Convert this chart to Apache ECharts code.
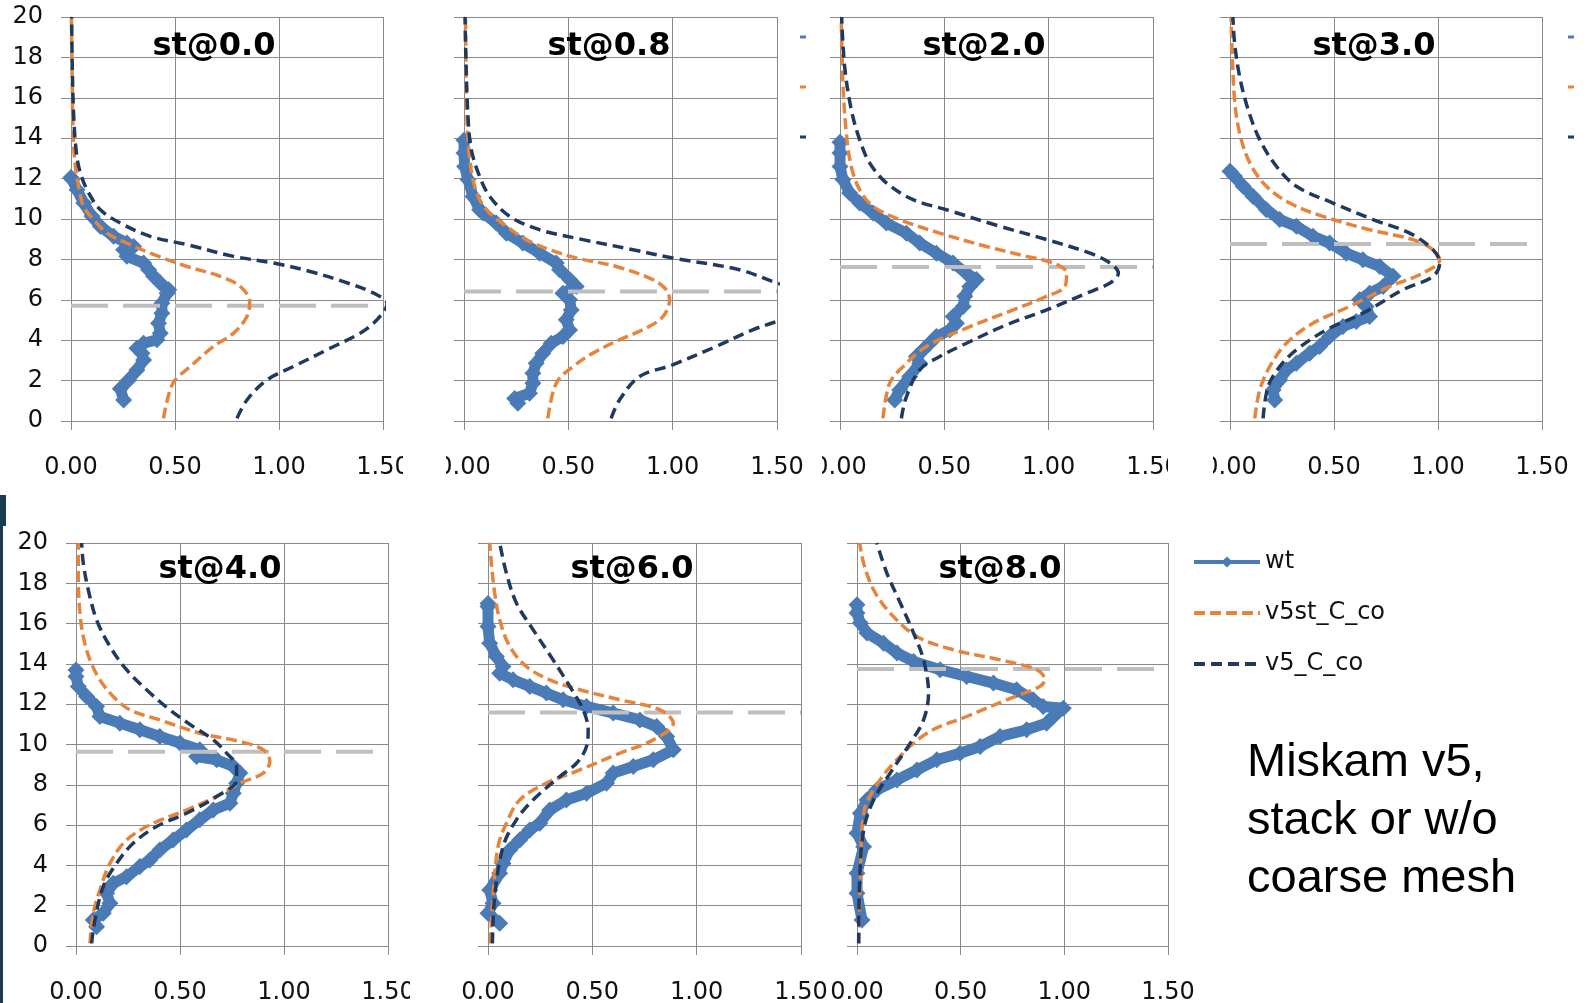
<!DOCTYPE html>
<html>
<head>
<meta charset="utf-8">
<script src="https://cdn.jsdelivr.net/npm/echarts@6/dist/echarts.min.js"></script>
<style>html,body{margin:0;padding:0;background:#fff;}#c{width:1586px;height:1003px;}</style>
</head>
<body>
<div id="c"></div>
<script>
// ---------- data ----------
const panelTitles = ['st@0.0','st@0.8','st@2.0','st@3.0','st@4.0','st@6.0','st@8.0'];
const seriesNames = ['wt','v5st_C_co','v5_C_co'];
const xMin = 0, xMax = 1.5, xStep = 0.5;
const yMin = 0, yMax = 20, yStep = 2;
// height of the gray dashed reference line in each panel
const refLevel = [5.71, 6.41, 7.62, 8.76, 9.64, 11.59, 13.75];

// [value, height] pairs
const wt_00 = [[0.253,1.04],[0.237,1.6],[0.277,2.03],[0.317,2.53],[0.349,3.02],[0.341,3.36],[0.317,3.6],[0.349,3.85],[0.413,4.02],[0.429,4.35],[0.421,4.84],[0.437,5.34],[0.437,5.83],[0.462,6.33],[0.47,6.5],[0.429,6.83],[0.397,7.16],[0.373,7.49],[0.349,7.82],[0.269,8.15],[0.253,8.48],[0.301,8.64],[0.269,8.81],[0.205,9.14],[0.141,9.64],[0.101,10.13],[0.061,10.79],[0.029,11.45],[0.005,11.95],[0,12.05]];
const v5st_00 = [[0.445,0.13],[0.49,1.87],[0.574,2.7],[0.686,3.7],[0.782,4.35],[0.846,5.17],[0.859,5.9],[0.814,6.66],[0.718,7.16],[0.558,7.65],[0.381,8.31],[0.27,8.8],[0.173,9.3],[0.109,9.97],[0.061,10.6],[0.037,11.6],[0.021,12.6],[0.01,14.26],[0.005,17.6],[0.002,20]];
const v5_00 = [[0.798,0.13],[0.846,1.04],[0.942,2.03],[1.07,2.7],[1.23,3.52],[1.39,4.35],[1.47,5.0],[1.52,5.8],[1.455,6.33],[1.31,6.9],[1.15,7.4],[0.974,7.82],[0.782,8.15],[0.558,8.73],[0.381,9.14],[0.237,9.8],[0.141,10.46],[0.085,11.29],[0.045,12.28],[0.026,13.27],[0.013,15.1],[0.006,17.6],[0.003,20]];

const wt_08 = [[0.258,0.88],[0.243,1.12],[0.314,1.37],[0.33,1.87],[0.33,2.36],[0.346,2.86],[0.378,3.36],[0.418,3.85],[0.474,4.18],[0.506,4.51],[0.49,5.01],[0.514,5.5],[0.506,6.0],[0.474,6.33],[0.538,6.66],[0.506,7.0],[0.458,7.49],[0.442,7.82],[0.362,8.31],[0.282,8.81],[0.203,9.3],[0.155,9.8],[0.091,10.3],[0.075,10.46],[0.043,11.12],[0.019,11.95],[0.003,12.6],[0,13.27],[0,13.9]];
const v5st_08 = [[0.402,0.13],[0.442,1.87],[0.522,2.69],[0.618,3.36],[0.745,4.02],[0.873,4.6],[0.953,5.17],[0.985,6.0],[0.969,6.5],[0.905,7.0],[0.729,7.65],[0.538,8.07],[0.41,8.48],[0.298,8.98],[0.203,9.64],[0.123,10.3],[0.075,10.96],[0.043,11.95],[0.024,13.27],[0.011,15.9],[0.008,19.2],[0.007,20]];
const v5_08 = [[0.705,0.13],[0.745,1.04],[0.841,2.2],[1.0,2.78],[1.208,3.69],[1.383,4.51],[1.5,4.93],[1.62,5.3],[1.72,5.9],[1.62,6.5],[1.5,6.83],[1.32,7.49],[1.0,8.07],[0.809,8.48],[0.57,8.98],[0.362,9.47],[0.219,10.13],[0.123,11.12],[0.075,12.1],[0.035,13.44],[0.019,15.1],[0.008,18.4],[0.005,20]];

const wt_20 = [[0.262,1.04],[0.286,1.54],[0.334,2.2],[0.382,2.86],[0.366,3.19],[0.398,3.52],[0.43,3.85],[0.462,4.18],[0.526,4.51],[0.558,4.84],[0.542,5.17],[0.59,5.67],[0.598,6.17],[0.622,6.66],[0.654,7.0],[0.606,7.32],[0.542,7.82],[0.462,8.31],[0.382,8.81],[0.318,9.3],[0.222,9.8],[0.158,10.3],[0.094,10.79],[0.046,11.29],[0.014,11.95],[0,12.6],[0,13.27],[0,13.8]];
const v5st_20 = [[0.206,0.13],[0.238,1.87],[0.302,2.69],[0.414,3.69],[0.606,4.6],[0.83,5.5],[0.99,6.17],[1.078,6.66],[1.086,7.32],[1.022,7.82],[0.894,8.15],[0.702,8.64],[0.478,9.3],[0.286,9.97],[0.158,10.63],[0.094,11.45],[0.054,12.6],[0.03,14.26],[0.014,16.74],[0.006,20]];
const v5_20 = [[0.294,0.13],[0.318,1.2],[0.382,2.53],[0.478,3.19],[0.606,3.85],[0.798,4.76],[0.99,5.5],[1.182,6.33],[1.294,6.83],[1.334,7.32],[1.294,7.82],[1.198,8.31],[0.99,8.98],[0.766,9.64],[0.51,10.46],[0.35,10.96],[0.222,11.79],[0.142,12.78],[0.094,13.93],[0.054,15.42],[0.022,17.57],[0.008,20]];

const wt_30 = [[0.215,1.04],[0.207,1.54],[0.239,2.03],[0.271,2.53],[0.319,2.86],[0.383,3.36],[0.431,3.69],[0.479,4.18],[0.543,4.68],[0.607,4.93],[0.671,5.17],[0.655,5.67],[0.623,6.0],[0.671,6.33],[0.736,6.66],[0.784,7.16],[0.72,7.65],[0.639,7.98],[0.559,8.31],[0.479,8.81],[0.399,9.14],[0.319,9.64],[0.239,9.97],[0.175,10.46],[0.111,11.12],[0.063,11.62],[0.022,12.12],[0,12.36]];
const v5st_30 = [[0.119,0.13],[0.143,1.54],[0.191,2.69],[0.271,3.85],[0.399,4.84],[0.575,5.67],[0.768,6.66],[0.928,7.32],[1.008,7.98],[0.976,8.48],[0.88,8.98],[0.671,9.47],[0.447,10.13],[0.287,10.79],[0.175,11.62],[0.095,12.78],[0.046,14.26],[0.022,15.9],[0.01,18.4],[0.005,20]];
const v5_30 = [[0.159,0.13],[0.183,1.7],[0.239,2.69],[0.319,3.52],[0.463,4.51],[0.639,5.34],[0.832,6.5],[0.976,7.16],[1.008,7.82],[0.976,8.48],[0.864,9.3],[0.688,9.97],[0.495,10.79],[0.319,11.62],[0.223,12.61],[0.143,13.93],[0.087,15.42],[0.046,17.07],[0.022,18.73],[0.014,20]];

const wt_40 = [[0.099,0.96],[0.083,1.29],[0.131,1.62],[0.163,2.12],[0.147,2.62],[0.179,3.11],[0.243,3.44],[0.307,3.94],[0.355,4.27],[0.403,4.77],[0.467,5.26],[0.531,5.76],[0.595,6.26],[0.66,6.75],[0.74,7.09],[0.756,7.58],[0.772,8.08],[0.788,8.58],[0.756,8.91],[0.676,9.24],[0.58,9.4],[0.595,9.74],[0.5,10.07],[0.403,10.4],[0.307,10.73],[0.211,11.06],[0.115,11.39],[0.099,11.89],[0.051,12.38],[0.011,12.88],[0,13.38],[0,13.7]];
const v5st_40 = [[0.067,0.13],[0.083,1.62],[0.115,2.78],[0.163,4.1],[0.243,5.26],[0.371,6.09],[0.531,6.75],[0.676,7.42],[0.788,8.08],[0.9,8.58],[0.932,9.16],[0.9,9.74],[0.788,10.15],[0.596,10.56],[0.403,11.22],[0.259,11.72],[0.179,12.38],[0.115,13.21],[0.067,14.2],[0.035,15.36],[0.019,16.52],[0.011,18.18],[0.011,20]];
const v5_40 = [[0.075,0.13],[0.091,1.29],[0.131,2.95],[0.195,4.1],[0.275,5.1],[0.387,5.93],[0.531,6.59],[0.676,7.42],[0.772,8.25],[0.772,8.91],[0.724,9.57],[0.66,10.23],[0.563,10.89],[0.451,11.72],[0.339,12.72],[0.243,13.71],[0.163,14.87],[0.099,16.19],[0.059,17.68],[0.035,19.0],[0.027,20]];

const wt_60 = [[0.056,1.13],[0,1.62],[0.024,2.12],[0.008,2.78],[0.056,3.61],[0.072,4.1],[0.104,4.77],[0.152,5.26],[0.2,5.76],[0.248,6.09],[0.296,6.75],[0.376,7.25],[0.472,7.58],[0.568,8.08],[0.6,8.58],[0.696,8.91],[0.792,9.24],[0.888,9.74],[0.856,10.4],[0.808,10.89],[0.728,11.22],[0.6,11.56],[0.472,11.89],[0.36,12.22],[0.28,12.55],[0.2,12.88],[0.12,13.21],[0.056,13.54],[0.072,13.87],[0.04,14.37],[0.008,15.03],[0,15.86],[0,16.85],[0,17.0]];
const v5st_60 = [[0.011,0.13],[0.024,2.45],[0.048,4.93],[0.088,6.09],[0.152,7.25],[0.28,8.08],[0.44,8.74],[0.632,9.57],[0.792,10.23],[0.888,11.06],[0.824,11.72],[0.632,12.22],[0.44,12.72],[0.296,13.21],[0.184,13.87],[0.104,14.87],[0.056,16.19],[0.032,17.52],[0.016,19.0],[0.008,20]];
const v5_60 = [[0.021,0.13],[0.032,2.45],[0.072,4.93],[0.136,6.26],[0.216,7.25],[0.344,8.41],[0.424,9.07],[0.472,9.9],[0.48,10.73],[0.456,11.72],[0.392,12.88],[0.312,14.2],[0.216,15.7],[0.136,17.02],[0.088,18.51],[0.056,20]];

const wt_80 = [[0.024,1.29],[0,2.62],[0,3.61],[0.032,4.93],[0,5.6],[0.016,6.59],[0.048,7.25],[0.096,7.75],[0.193,8.24],[0.289,8.74],[0.385,9.24],[0.497,9.57],[0.594,9.9],[0.69,10.4],[0.818,10.73],[0.914,11.06],[0.947,11.39],[0.995,11.8],[0.898,11.89],[0.85,12.22],[0.77,12.72],[0.658,13.05],[0.529,13.38],[0.401,13.71],[0.273,14.12],[0.193,14.54],[0.128,15.03],[0.048,15.53],[0.016,16.03],[0,16.52],[0,16.94]];
const v5st_80 = [[0.008,0.13],[0.016,3.28],[0.032,6.59],[0.08,7.75],[0.176,9.07],[0.337,10.56],[0.529,11.39],[0.722,12.22],[0.882,12.88],[0.906,13.21],[0.866,13.71],[0.69,14.2],[0.465,14.7],[0.289,15.36],[0.16,16.52],[0.08,17.68],[0.032,19.0],[0.013,20]];
const v5_80 = [[0.008,0.13],[0.013,3.28],[0.032,5.76],[0.08,7.25],[0.16,8.58],[0.257,10.07],[0.321,11.22],[0.345,12.55],[0.321,14.2],[0.273,15.53],[0.209,17.02],[0.144,18.51],[0.096,20]];

const wtData = [wt_00, wt_08, wt_20, wt_30, wt_40, wt_60, wt_80];
const v5stData = [v5st_00, v5st_08, v5st_20, v5st_30, v5st_40, v5st_60, v5st_80];
const v5Data = [v5_00, v5_08, v5_20, v5_30, v5_40, v5_60, v5_80];

// ---------- layout & style ----------
const gridBoxes = [
  {left:71, top:17, width:312, height:404},
  {left:464, top:17, width:313, height:404},
  {left:840, top:17, width:313, height:404},
  {left:1230, top:17, width:312, height:404},
  {left:76, top:543, width:312, height:403},
  {left:488, top:543, width:313, height:403},
  {left:857, top:543, width:311, height:403}
];
const titlePos = [[214,47],[609,47],[984,47],[1374,47],[220,570],[632,570],[1000,570]];
const showYLabels = [true,false,false,false,true,false,false];

const BLUE = '#4a7bb7', ORANGE = '#e6843b', NAVY = '#1f3a60', GRAY = '#bfbfbf', GRID = '#8a8a8a';
const FONT = 'DejaVu Sans';

const grids = [], xAxes = [], yAxes = [], series = [];
gridBoxes.forEach((g, i) => {
  grids.push(Object.assign({outerBoundsMode:'none', containLabel:false}, g));
  xAxes.push({
    type:'value', gridIndex:i, min:xMin, max:xMax, interval:xStep,
    axisLine:{show:true, lineStyle:{color:GRID}},
    axisTick:{show:true, length:9, lineStyle:{color:GRID}},
    splitLine:{show:true, lineStyle:{color:GRID, width:1}},
    axisLabel:{show:true, margin:35, fontFamily:FONT, fontSize:24, color:'#111',
      formatter: v => v.toFixed(2), showMinLabel:true, showMaxLabel:true}
  });
  yAxes.push({
    type:'value', gridIndex:i, min:yMin, max:yMax, interval:yStep,
    axisLine:{show:true, lineStyle:{color:GRID}},
    axisTick:{show:true, length:10, lineStyle:{color:GRID}},
    splitLine:{show:true, lineStyle:{color:GRID, width:1}},
    axisLabel:{show:showYLabels[i], margin:28, fontFamily:FONT, fontSize:24, color:'#111'}
  });
  series.push({
    name:seriesNames[0], type:'line', xAxisIndex:i, yAxisIndex:i, data:wtData[i],
    symbol:'diamond', symbolSize:17, showSymbol:true,
    lineStyle:{color:BLUE, width:11}, itemStyle:{color:BLUE}, z:2, silent:true, animation:false
  });
  series.push({
    name:'ref', type:'line', xAxisIndex:i, yAxisIndex:i,
    data:[[xMin, refLevel[i]],[xMax, refLevel[i]]], symbol:'none',
    lineStyle:{color:GRAY, width:4, type:[37,15]}, z:3, silent:true, animation:false
  });
  series.push({
    name:seriesNames[1], type:'line', xAxisIndex:i, yAxisIndex:i, data:v5stData[i],
    symbol:'none', smooth:0.35,
    lineStyle:{color:ORANGE, width:3.5, type:[11,5]}, itemStyle:{color:ORANGE}, z:4, silent:true, animation:false
  });
  series.push({
    name:seriesNames[2], type:'line', xAxisIndex:i, yAxisIndex:i, data:v5Data[i],
    symbol:'none', smooth:0.35,
    lineStyle:{color:NAVY, width:3.5, type:[11,6]}, itemStyle:{color:NAVY}, z:5, silent:true, animation:false
  });
});

const graphics = [];
panelTitles.forEach((t, i) => {
  graphics.push({type:'text', x:titlePos[i][0], y:titlePos[i][1], z:50,
    style:{text:t, fill:'#000', font:'bold 32px "DejaVu Sans"', textAlign:'center', textVerticalAlign:'middle'}});
});
// big note
['Miskam v5,','stack or w/o','coarse mesh'].forEach((t, k) => {
  graphics.push({type:'text', x:1247, y:763 + k*58, z:50,
    style:{text:t, fill:'#000', font:'47px "Liberation Sans"', textAlign:'left', textVerticalAlign:'middle'}});
});
// white masks where neighbouring chart frames clip tick labels
[[403,440,43,50],[803,440,19,50],[1168,440,45,50],[410,960,45,43]].forEach(r => {
  graphics.push({type:'rect', shape:{x:r[0], y:r[1], width:r[2], height:r[3]}, z:60, style:{fill:'#fff'}});
});
// slide decoration bar on the left
graphics.push({type:'rect', shape:{x:0, y:495, width:6, height:31}, z:60, style:{fill:'#173d4f'}});
graphics.push({type:'rect', shape:{x:0, y:526, width:3, height:477}, z:60, style:{fill:'#173d4f'}});
// stray legend fragments of underlying chart objects
[[800,37,BLUE],[800,87,ORANGE],[800,137,NAVY],[1568,37,BLUE],[1568,87,ORANGE],[1568,137,NAVY]].forEach(d => {
  graphics.push({type:'rect', shape:{x:d[0], y:d[1]-1.5, width:6, height:3}, z:60, style:{fill:d[2]}});
});

const chart = echarts.init(document.getElementById('c'), null, {renderer:'canvas'});
chart.setOption({
  backgroundColor:'#fff',
  animation:false,
  grid:grids, xAxis:xAxes, yAxis:yAxes, series:series,
  legend:{
    show:true, orient:'vertical', left:1192, top:550, padding:0, itemWidth:66, itemHeight:14, itemGap:27,
    textStyle:{fontFamily:FONT, fontSize:24, color:'#111'},
    data:[
      {name:'wt', lineStyle:{width:4}, itemStyle:{color:BLUE}},
      {name:'v5st_C_co', lineStyle:{width:4}, itemStyle:{opacity:0}},
      {name:'v5_C_co', lineStyle:{width:4}, itemStyle:{opacity:0}}
    ],
    selectedMode:false
  },
  graphic:graphics
});
</script>
</body>
</html>
